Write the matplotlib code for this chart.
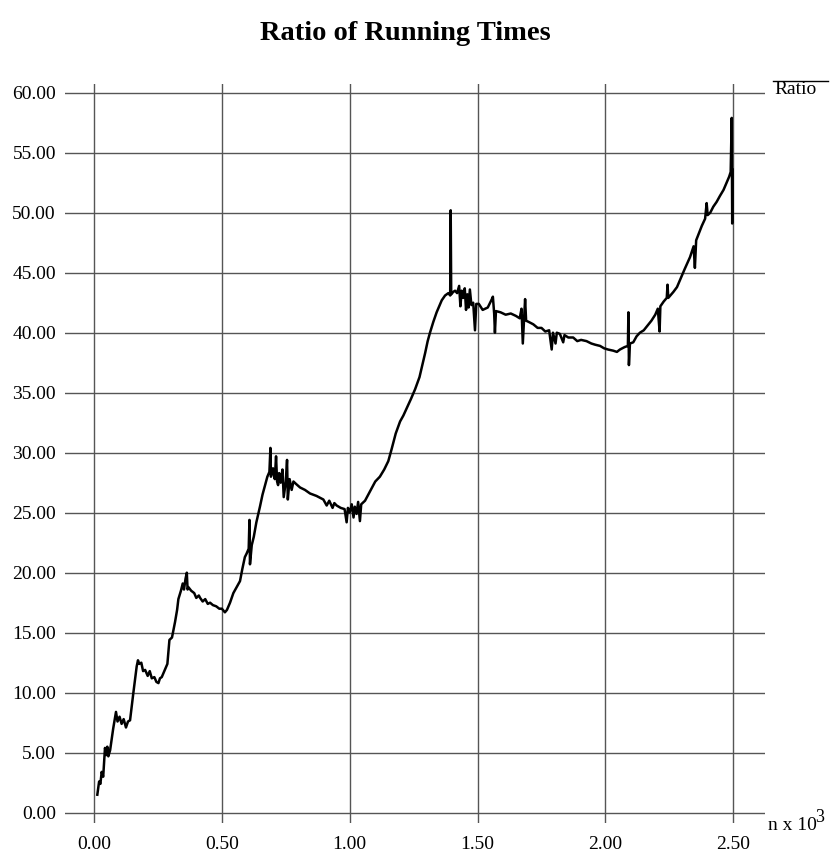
import numpy as np
import matplotlib
matplotlib.use("Agg")
import matplotlib.pyplot as plt
from matplotlib.lines import Line2D

plt.rcParams['font.family'] = ['Liberation Serif', 'DejaVu Serif']

n = [0.013, 0.020, 0.025, 0.030, 0.036, 0.043, 0.048, 0.052, 0.056, 0.063,
     0.075, 0.086, 0.092, 0.100, 0.108, 0.116, 0.125, 0.133, 0.141, 0.154,
     0.167, 0.172, 0.177, 0.185, 0.192, 0.200, 0.210, 0.218, 0.226, 0.236,
     0.244, 0.252, 0.258, 0.265, 0.275, 0.287, 0.295, 0.305, 0.317, 0.325,
     0.330, 0.340, 0.347, 0.352, 0.358, 0.363, 0.366, 0.369, 0.380, 0.392,
     0.400, 0.410, 0.415, 0.425, 0.435, 0.445, 0.454, 0.465, 0.478, 0.490,
     0.500, 0.512, 0.520, 0.532, 0.545, 0.558, 0.571, 0.580, 0.590, 0.597,
     0.605, 0.608, 0.610, 0.617, 0.625, 0.635, 0.649, 0.659, 0.669, 0.678,
     0.686, 0.690, 0.692, 0.700, 0.707, 0.712, 0.716, 0.720, 0.724, 0.730,
     0.737, 0.742, 0.750, 0.755, 0.758, 0.765, 0.773, 0.780, 0.790, 0.806,
     0.825, 0.845, 0.870, 0.897, 0.910, 0.920, 0.933, 0.940, 0.949, 0.965,
     0.980, 0.988, 0.993, 1.000, 1.008, 1.015, 1.020, 1.027, 1.033, 1.040,
     1.045, 1.060, 1.080, 1.100, 1.118, 1.135, 1.151, 1.164, 1.180, 1.197,
     1.210, 1.223, 1.240, 1.256, 1.273, 1.285, 1.295, 1.305, 1.314, 1.327,
     1.340, 1.350, 1.360, 1.373, 1.386, 1.393, 1.395, 1.397, 1.405, 1.412,
     1.420, 1.428, 1.433, 1.438, 1.444, 1.450, 1.455, 1.460, 1.465, 1.470,
     1.476, 1.483, 1.490, 1.495, 1.505, 1.520, 1.540, 1.556, 1.560, 1.565,
     1.568, 1.572, 1.590, 1.610, 1.630, 1.650, 1.665, 1.672, 1.677, 1.682,
     1.686, 1.690, 1.700, 1.718, 1.735, 1.750, 1.765, 1.780, 1.790, 1.795,
     1.805, 1.810, 1.822, 1.835, 1.840, 1.855, 1.874, 1.890, 1.905, 1.926,
     1.945, 1.960, 1.979, 1.995, 2.010, 2.031, 2.045, 2.057, 2.075, 2.088,
     2.090, 2.092, 2.096, 2.109, 2.122, 2.135, 2.150, 2.165, 2.180, 2.195,
     2.205, 2.212, 2.215, 2.228, 2.240, 2.243, 2.246, 2.266, 2.280, 2.292,
     2.310, 2.331, 2.345, 2.350, 2.355, 2.377, 2.390, 2.396, 2.400, 2.410,
     2.422, 2.435, 2.448, 2.462, 2.474, 2.484, 2.490, 2.494, 2.496, 2.497]
ratio = [1.5, 2.6, 2.4, 3.4, 3.0, 5.4, 4.8, 5.5, 4.7, 5.2,
         7.0, 8.4, 7.6, 8.0, 7.4, 7.8, 7.1, 7.6, 7.7, 10.0,
         12.2, 12.7, 12.4, 12.5, 11.8, 11.9, 11.4, 11.8, 11.2, 11.3,
         10.9, 10.8, 11.2, 11.3, 11.8, 12.4, 14.4, 14.6, 15.9, 16.9,
         17.8, 18.5, 19.1, 18.6, 19.5, 20.0, 18.6, 18.8, 18.5, 18.3,
         17.9, 18.1, 17.9, 17.6, 17.8, 17.4, 17.5, 17.3, 17.2, 17.0,
         17.0, 16.7, 16.9, 17.5, 18.3, 18.8, 19.3, 20.3, 21.3, 21.6,
         22.0, 24.4, 20.7, 22.3, 23.0, 24.2, 25.5, 26.5, 27.3, 28.0,
         28.4, 30.4, 28.0, 28.7, 27.8, 29.7, 27.6, 27.3, 28.3, 27.5,
         28.6, 26.3, 27.6, 29.4, 26.1, 27.8, 26.9, 27.6, 27.4, 27.1,
         26.9, 26.6, 26.4, 26.1, 25.6, 26.0, 25.4, 25.8, 25.6, 25.4,
         25.3, 24.2, 25.4, 25.0, 25.7, 24.6, 25.5, 24.9, 25.9, 24.3,
         25.7, 26.0, 26.8, 27.6, 28.0, 28.6, 29.3, 30.3, 31.6, 32.6,
         33.1, 33.7, 34.5, 35.3, 36.3, 37.4, 38.3, 39.3, 40.0, 40.9,
         41.7, 42.2, 42.7, 43.1, 43.3, 43.1, 50.2, 43.2, 43.4, 43.5,
         43.3, 43.9, 42.2, 43.5, 42.9, 43.7, 41.9, 43.2, 42.1, 43.6,
         42.3, 42.5, 40.2, 42.4, 42.4, 41.9, 42.1, 42.8, 43.0, 41.6,
         40.0, 41.8, 41.7, 41.5, 41.6, 41.4, 41.2, 42.0, 39.1, 41.2,
         42.8, 41.0, 40.9, 40.7, 40.4, 40.4, 40.1, 40.2, 38.6, 40.0,
         39.1, 40.0, 39.9, 39.2, 39.8, 39.6, 39.6, 39.3, 39.4, 39.3,
         39.1, 39.0, 38.9, 38.7, 38.6, 38.5, 38.4, 38.6, 38.8, 38.9,
         41.7, 37.3, 39.1, 39.2, 39.7, 40.0, 40.2, 40.6, 41.0, 41.5,
         42.0, 40.1, 42.2, 42.6, 42.9, 44.0, 42.9, 43.4, 43.8, 44.4,
         45.3, 46.3, 47.2, 45.4, 47.7, 48.9, 49.5, 50.8, 49.8, 50.0,
         50.5, 50.9, 51.4, 51.9, 52.5, 53.0, 53.4, 57.9, 49.1, 53.6]

xticks = [0.0, 0.5, 1.0, 1.5, 2.0, 2.5]
yticks = [0, 5, 10, 15, 20, 25, 30, 35, 40, 45, 50, 55, 60]

fig = plt.figure(figsize=(8.3, 8.56), dpi=100)
ax = fig.add_axes([65/830, 33/856, 700/830, 739/856])

ax.plot(n, ratio, color="black", lw=1.8)

ax.set_xlim(-0.1134, 2.6242)
ax.set_ylim(-0.858, 60.725)
ax.set_xticks(xticks)
ax.set_yticks(yticks)
ax.set_xticklabels(["%.2f" % t for t in xticks])
ax.set_yticklabels(["%.2f" % t for t in yticks])
ax.tick_params(length=0, labelsize=14)
ax.tick_params(axis="y", pad=6.5)
ax.tick_params(axis="x", pad=9.5)
ax.grid(True, color="#555555", lw=1)
ax.set_axisbelow(True)
for s in ax.spines.values():
    s.set_visible(False)

fig.text(405/830, 1 - 33/856, "Ratio of Running Times", ha="center", va="center",
         fontsize=20.5, fontweight="bold")

# legend: line above the label
fig.add_artist(Line2D([773/830, 828/830], [1 - 81/856, 1 - 81/856],
                      color="black", lw=1))
fig.text(774/830, 1 - 89/856, "Ratio", ha="left", va="center", fontsize=14)

# axis unit label with a large superscript
fig.text(768/830, 1 - 826/856, "n x 10", ha="left", va="center", fontsize=14)
fig.text(815/830, 1 - 817/856, "3", ha="left", va="center", fontsize=13)

fig.savefig("out.png", dpi=100)
